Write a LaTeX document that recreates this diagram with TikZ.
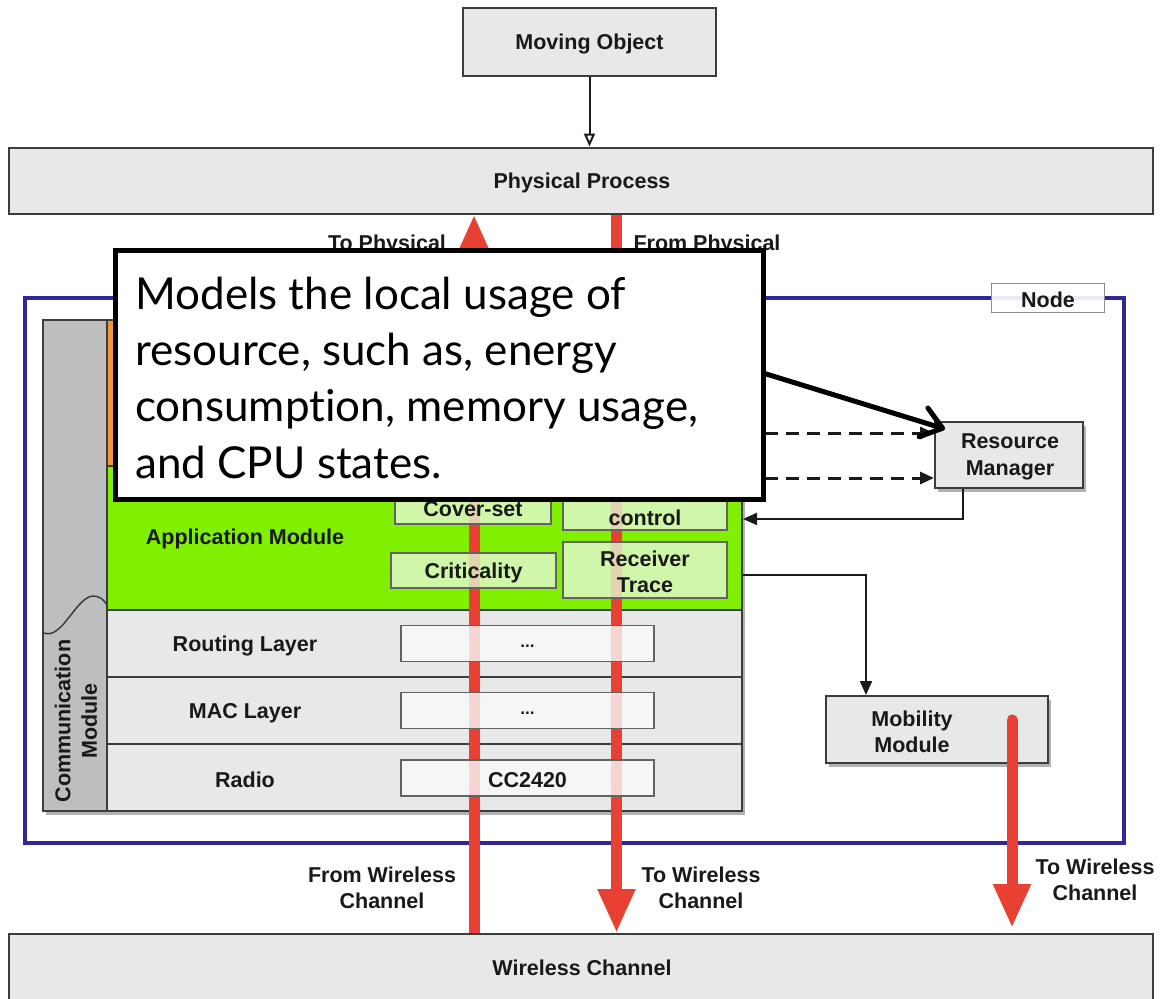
\documentclass[tikz,border=0pt]{standalone}
\usepackage{fontspec}
\setmainfont{Liberation Sans}
\newfontfamily\callfont[Ligatures={NoCommon}]{Lato}
\usetikzlibrary{arrows.meta,shadows}

\definecolor{boxgray}{RGB}{232,232,232}
\definecolor{edgegray}{RGB}{60,60,60}
\definecolor{nodeblue}{RGB}{46,40,152}
\definecolor{appgreen}{RGB}{128,240,0}
\definecolor{lightgreen}{RGB}{228,248,212}
\definecolor{redarrow}{RGB}{232,64,50}
\definecolor{orangemod}{RGB}{240,150,60}
\definecolor{commgray}{RGB}{190,190,190}
\definecolor{innerwhite}{RGB}{250,250,250}
\definecolor{txtc}{RGB}{25,25,25}

\begin{document}
\begin{tikzpicture}[x=1pt,y=-1pt,
  txtfont/.style={font=\fontsize{21.5}{26.5}\selectfont\bfseries},
  lbl/.style={txtfont, text=txtc, align=center, inner sep=0pt},
  tlbl/.style={lbl, yshift=-2pt},
  graybox/.style={lbl, draw=edgegray, line width=2pt, fill=boxgray},
  shad/.style={drop shadow={shadow xshift=3pt, shadow yshift=-4pt, opacity=0.5, fill=black!60}},
  innerbox/.style={lbl, draw=edgegray!80, line width=1.5pt, fill=innerwhite, fill opacity=0.8, text opacity=1},
  greenbox/.style={innerbox, fill=lightgreen},
  layer/.style={draw=edgegray, line width=2pt, fill=boxgray, anchor=north west, inner sep=0pt, outer sep=0pt},
  redarr/.style={draw=redarrow, line width=11pt, -{Triangle[length=44pt,width=35pt]}},
  conn/.style={draw=black!90, line width=2pt},
  tri/.style={-{Triangle[length=14pt,width=12pt]}},
  dasharr/.style={conn, line width=3pt, dash pattern=on 13pt off 8pt, -{Triangle[length=14pt,width=12pt]}},
  calltext/.style={font=\callfont\fontsize{44}{54}\selectfont, anchor=base west, inner sep=0pt, text=black},
]
\useasboundingbox (0,0) rectangle (1160,999);
\fill[white] (0,0) rectangle (1160,999);

% top: moving object and physical process
\node[graybox, minimum width=253pt, minimum height=68pt] (mo) at (589.5,42) {};
\node[tlbl] (mot) at (589.5,42) {Moving Object};
\node[graybox, minimum width=1144pt, minimum height=66pt] (pp) at (581,180.5) {};
\node[tlbl] (ppt) at (582,180.5) {Physical Process};
\draw[conn, -{Triangle[open, length=13pt, width=11pt]}] (mo.south) -- (mo.south |- pp.north);

% bottom: wireless channel
\node[graybox, minimum width=1144pt, minimum height=80pt, anchor=north] (wc) at (581,933) {};
\node[tlbl] (wct) at (582,966) {Wireless Channel};

% node frame
\node[draw=nodeblue, line width=4.5pt, minimum width=1099pt, minimum height=545pt, inner sep=0pt] (nodeframe) at (574.5,570.5) {};
\node[lbl, draw=black!45, line width=1.5pt, fill=white, fill opacity=0.9, text opacity=1, minimum width=113pt, minimum height=29pt] (nodelbl) at (1048,298) {};
\node[tlbl] (nodet) at (1048,298) {Node};

% stack
\path[shad, fill=white] (43,320) rectangle (742,811);
\node[layer, fill=orangemod, minimum width=635pt, minimum height=146pt] (sens) at (107,320) {};
\node[layer, fill=appgreen, minimum width=635pt, minimum height=144pt] (app) at (107,466) {};
\node[layer, minimum width=635pt, minimum height=67pt] (rout) at (107,610) {};
\node[layer, minimum width=635pt, minimum height=67pt] (mac) at (107,677) {};
\node[layer, minimum width=635pt, minimum height=67pt] (radio) at (107,744) {};
\node[layer, fill=commgray, minimum width=64pt, minimum height=491pt] (comm) at (43,320) {};
\draw[edgegray, line width=1.5pt] (44,633) .. controls (62,640) and (76,597) .. (93,596) .. controls (100,596) and (104,600) .. (107,605);
\node[lbl, rotate=90] (commt) at (76,721) {Communication\\Module};

\node[tlbl] (appt) at (245,537) {Application Module};
\node[tlbl] (routt) at (245,644) {Routing Layer};
\node[tlbl] (mact) at (245,711) {MAC Layer};
\node[tlbl] (radiot) at (245,778) {Radio};

% side modules
\node[graybox, shad, minimum width=148pt, minimum height=66pt] (rm) at (1009,455) {};
\node[tlbl] (rmt) at (1010,455) {Resource\\Manager};
\node[graybox, shad, minimum width=222pt, minimum height=67pt] (mob) at (937,729.5) {};
\node[tlbl] (mobt) at (912,730) {Mobility\\Module};

% red arrows
\coordinate (rl) at (474,0);
\coordinate (rr) at (616.5,0);
\coordinate (rmo) at (1012,720);
\draw[redarr] (rl |- wc.north) -- (rl |- pp.south);
\draw[redarr] (rr |- pp.south) -- (rr |- wc.north);
\draw[redarr, line cap=round, shorten >=5pt] (rmo) -- (rmo |- wc.north);

% inner boxes
\node[greenbox, minimum width=156pt, minimum height=34pt] (cover) at (473,507) {};
\node[tlbl] (covert) at (473,507) {Cover-set};
\node[greenbox, minimum width=164pt, minimum height=60pt] (ctrl) at (645,500) {};
\node[tlbl] (ctrlt) at (645,516) {control};
\node[greenbox, minimum width=165pt, minimum height=35pt] (crit) at (473.5,570.5) {};
\node[tlbl] (critt) at (473.5,571) {Criticality};
\node[greenbox, minimum width=164pt, minimum height=56pt] (rtrace) at (645,570) {};
\node[tlbl] (rtracet) at (645,570) {Receiver\\Trace};
\node[innerbox, minimum width=253pt, minimum height=36pt] (routbox) at (527.5,643.5) {\fontsize{17}{17}\selectfont\vphantom{Ag}...};
\node[innerbox, minimum width=253pt, minimum height=36pt] (macbox) at (527.5,710.5) {\fontsize{17}{17}\selectfont\vphantom{Ag}...};
\node[innerbox, minimum width=253pt, minimum height=36pt] (radiobox) at (527.5,778) {};
\node[tlbl] (radioboxt) at (527.5,778) {CC2420};

% black connectors
\coordinate (rmout) at (963,0);
\coordinate (rmback) at (743,519);
\draw[conn, tri] (rmout |- rm.south) |- (rmback);
\coordinate (rtout) at (743,575);
\coordinate (mobin) at (866,0);
\draw[conn, tri] (rtout) -| (mobin |- mob.north);
\coordinate (d1) at (765,433);
\coordinate (d2) at (765,478);
\draw[dasharr] (d1) -- (d1 -| rm.west);
\draw[dasharr] (d2) -- (d2 -| rm.west);

% labels
\node[lbl, anchor=base] (tophys) at (387,250) {To Physical};
\node[lbl, anchor=base] (fromphys) at (707,250) {From Physical};
\node[tlbl] (fromwl) at (382,886) {From Wireless\\Channel};
\node[tlbl] (towl) at (701,886) {To Wireless\\Channel};
\node[tlbl] (towl2) at (1095,878) {To Wireless\\Channel};

% callout
\node[draw=black, line width=5pt, fill=white, minimum width=647.5pt, minimum height=249pt, anchor=north west, inner sep=0pt, outer sep=0pt] (callout) at (115.5,250) {};
\node[calltext] (cl1) at (135,309) {Models the local usage of};
\node[calltext] (cl2) at (135,365.3) {resource, such as, energy};
\node[calltext] (cl3) at (135,421.6) {consumption, memory usage,};
\node[calltext] (cl4) at (135,478) {and CPU states.};
\coordinate (cs) at (763,373);
\draw[line width=5pt, -{Straight Barb[length=20pt,width=30pt,round]}] (cs) -- ([shift={(11,8)}]rm.north west);
\end{tikzpicture}
\end{document}
